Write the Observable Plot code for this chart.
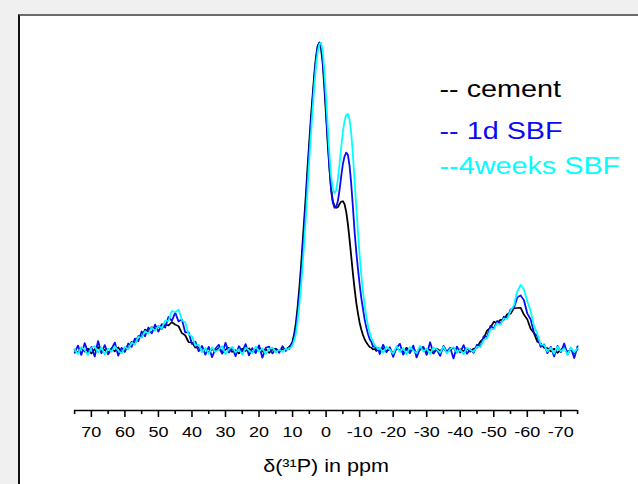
<!DOCTYPE html>
<html><head><meta charset="utf-8">
<script src="https://cdn.jsdelivr.net/npm/d3@7"></script>
<script src="https://cdn.jsdelivr.net/npm/@observablehq/plot@0.6"></script>
<style>
html,body{margin:0;padding:0;background:#f0f0f0;width:638px;height:484px;overflow:hidden;}
#panel{position:absolute;left:18px;top:14px;width:700px;height:600px;background:#fff;border-top:2px solid #6a6a6a;border-left:2px solid #111;}
#chart{position:absolute;left:0;top:0;width:638px;height:484px;}
</style></head><body>
<div id="panel"></div>
<div id="chart"></div>
<script>
// chemical shift (ppm)
const ppm = [
75,74,73,72,71,70,69,68,67,66,65,64,63,62,61,60,59,58,57,56,55,54,53,52,51,50,49,48,47,46,45,44,43,42,41,40,39,38,37,36,35,34,33,32,31,30,29,28,27,26,25,24,23,22,21,20,19,18,17,16,15,14,13,12,
11.5,11,10.5,10,9.5,9,8.5,8,7.5,7,6.5,6,5.5,5,4.5,4,3.5,3,2.5,2,1.5,1,0.5,0,-0.5,-1,-1.5,-2,-2.5,-3,-3.5,-4,-4.5,-5,-5.5,-6,-6.5,-7,-7.5,-8,-8.5,-9,-9.5,-10,-10.5,-11,-11.5,-12,-12.5,-13,-13.5,-14,-14.5,-15,-15.5,
-16,-17,-18,-19,-20,-21,-22,-23,-24,-25,-26,-27,-28,-29,-30,-31,-32,-33,-34,-35,-36,-37,-38,-39,-40,-41,-42,-43,-44,-45,-46,-47,-48,-49,-50,-51,-52,-53,-54,-55,-56,-57,-58,-59,-60,-61,-62,-63,-64,-65,-66,-67,-68,-69,-70,-71,-72,-73,-74,-75
];
// intensities (main peak = 100)
const cement = [
0.3,-0.8,0.9,-0.4,0.6,-1.0,0.4,1.1,-0.5,0.2,-0.9,0.7,-0.3,1.0,-0.6,
0.9,0.6,2.8,2.3,4.7,4.4,6.8,6.0,7.6,6.9,7.9,7.0,8.4,8.1,9.2,8.4,7.9,5.6,4.9,2.7,2.6,0.9,1.0,-0.3,
0.6,-0.7,0.4,-0.2,0.8,-0.9,0.3,0.9,-0.5,0.1,-1.0,0.6,-0.2,0.7,-0.6,0.2,1.0,-0.4,0.5,-0.8,0.3,0.6,-0.3,0.4,0.5,
0.6,1.2,1.8,3.0,5.5,9,14,20,27,35,
43,51,60,68,76,83,90,95.5,99,100,
98,93,85,76,67,59,52.5,48.5,47,46.3,
46.5,47.5,48.3,48.5,47.5,45,41,36,30.5,25,
20,15.5,12,9,6.8,5,3.6,2.6,1.8,1.1,
0.9,0.3,0.5,-0.2,0.4,
-0.5,0.7,-0.2,0.4,-0.9,0.6,0.1,-0.6,0.9,-0.3,0.5,-0.8,0.2,0.8,-0.4,0.3,-1.0,0.6,-0.1,0.7,-0.5,0.2,0.9,-0.7,0.4,-0.2,0.6,-0.4,
0.6,0.9,2.9,3.9,6.5,7.4,9.3,8.9,10.0,9.9,11.8,11.9,13.7,13.8,13.9,11.6,10.1,7.0,5.6,2.8,2.3,0.8,0.8,-0.3,
0.6,-0.8,0.3,0.9,-0.5,0.4,-0.9,0.5
];
const sbf1d = [
-0.8,1.6,-1.5,2.4,-0.6,1.2,-2.0,3.1,-0.9,1.8,-1.3,0.5,2.6,-1.7,0.9,
-0.5,2.3,1.1,3.9,3.0,6.2,4.6,7.5,5.5,8.4,6.1,8.6,7.4,10.9,9.6,12.3,9.4,10.1,5.8,5.9,2.1,2.9,-0.3,1.5,
-1.4,1.2,-2.2,0.6,1.9,-1.1,2.5,-0.7,1.0,-1.9,1.4,-0.4,2.1,-1.6,0.8,-0.9,1.7,-2.4,0.9,1.3,-1.0,0.6,-0.8,1.4,-0.2,
0.9,0.5,1.8,2.4,4.3,7.3,12,17.5,24,32,
40,48.5,57.5,66,74,81.5,88.5,94.5,98.5,100,
99,94.5,87,78,68.5,59.5,52,48,46.3,46.5,
48.5,52,56.5,60.5,63,64.3,63.5,60,54,46.5,
38.5,32,26.5,21.5,17,13.5,10,7.5,5.3,3.7,
2.8,1.2,1.5,0.1,0.8,
-1.2,1.9,-0.6,1.1,-2.1,0.8,2.2,-1.4,0.5,-0.9,1.6,-2.3,0.7,1.2,-1.5,2.7,-0.8,0.3,-1.8,1.5,-0.4,0.9,-2.6,1.3,-0.7,1.8,-1.1,0.4,
-0.8,1.9,1.2,4.6,4.4,8.0,7.1,9.6,8.6,11.0,10.5,13.3,13.8,17.2,17.9,16.3,12.0,10.1,5.7,4.6,1.1,2.0,-0.9,1.2,
-2.0,1.5,-0.6,2.3,-1.3,0.8,-2.5,1.4
];
const sbf4w = [
0.4,-1.2,1.1,0.2,-1.5,0.9,1.4,-0.7,1.0,-1.3,0.6,-0.4,1.3,0.0,-1.0,
1.2,0.4,2.6,1.9,4.5,4.1,6.3,5.4,7.5,6.4,8.0,7.1,9.7,9.6,12.8,12.4,13.3,9.8,9.1,5.2,4.6,1.6,1.9,-0.6,
0.8,-1.1,1.0,-0.5,0.3,1.4,-1.2,0.5,1.1,-0.6,0.4,-1.4,0.9,0.1,-0.9,1.3,-0.4,0.7,-1.2,0.5,1.0,-0.7,0.3,-0.5,0.6,
0.2,0.8,0.9,1.8,3.2,5.5,9.5,14.5,20.5,27.5,
35.5,44,53,62,70.5,78.5,86,92.5,97,99.5,
100,97,90.5,82,72.5,63.5,56.5,52.5,51,52,
55.5,60.5,66,71,74.5,76.5,76.8,75,70.5,63.5,
55,46.5,38.5,31,24.5,19,14.5,11,8,5.8,
4,2.9,1.5,1.2,0.3,
0.9,-0.8,1.2,0.3,-1.1,1.4,-0.5,0.8,-1.3,1.1,0.0,-0.9,1.5,-0.4,0.6,-1.2,1.0,0.4,-0.8,1.3,-1.0,0.5,1.1,-0.6,0.2,-1.3,0.9,0.2,
-0.5,1.2,1.1,3.4,3.9,6.9,6.9,8.9,8.4,10.4,10.2,12.9,14.6,19.1,21.3,19.8,16.0,12.8,7.9,5.4,1.9,1.8,-0.4,0.9,
-1.1,1.3,-0.3,0.8,-1.4,1.0,-0.6,0.7
];
const seriesNames = ["-- cement", "-- 1d SBF", "--4weeks SBF"];
const seriesColors = ["#000000", "#0a0af5", "#00ffff"];
const majorTicks = [70,60,50,40,30,20,10,0,-10,-20,-30,-40,-50,-60,-70];
const minorTicks = [75,65,55,45,35,25,15,5,-5,-15,-25,-35,-45,-55,-65,-75];
const axisLabel = "δ(³¹P) in ppm";

[cement, sbf1d, sbf4w].forEach((a, i) => {
  if (a.length !== ppm.length) throw new Error("length mismatch series " + i + ": " + a.length + " vs " + ppm.length);
});

const S = 638 / 532;   // horizontal stretch of the original figure
const W = 532;
const yDomain = [-19.5, 100];
const values = [cement, sbf1d, sbf4w];

const plot = Plot.plot({
  width: W, height: 484,
  marginLeft: 74 / S, marginRight: W - 577 / S, marginTop: 42, marginBottom: 74,
  style: {background: "transparent", fontFamily: "'Liberation Sans', Arial, sans-serif", color: "#000", overflow: "visible"},
  x: {domain: [75, -75]},
  y: {domain: yDomain, axis: null},
  marks: [
    Plot.ruleY([yDomain[0]], {stroke: "#000", strokeWidth: 1.6}),
    Plot.axisX(minorTicks, {tickSize: 4, tickFormat: () => "", strokeWidth: 1.3, label: null}),
    Plot.axisX(majorTicks, {tickSize: 7, tickPadding: 8.5, fontSize: 15, tickFormat: d => String(d), strokeWidth: 1.3, label: null}),
    ...values.map((v, i) => Plot.line(ppm, {x: ppm, y: v, stroke: seriesColors[i], strokeWidth: 1.5})),
    ...seriesNames.map((t, i) => Plot.text([t], {
      frameAnchor: "top-left", dx: 366 - 74 / S, dy: [37.5, 79, 114][i],
      text: d => d, fill: seriesColors[i], fontSize: 24, textAnchor: "start"
    })),
    Plot.text([axisLabel], {frameAnchor: "bottom", dy: 61, text: d => d, fontSize: 18})
  ]
});
plot.setAttribute("preserveAspectRatio", "none");
plot.setAttribute("width", 638);
plot.style.width = "638px";
plot.style.height = "484px";
plot.style.maxWidth = "none";
document.getElementById("chart").appendChild(plot);
</script></body></html>
